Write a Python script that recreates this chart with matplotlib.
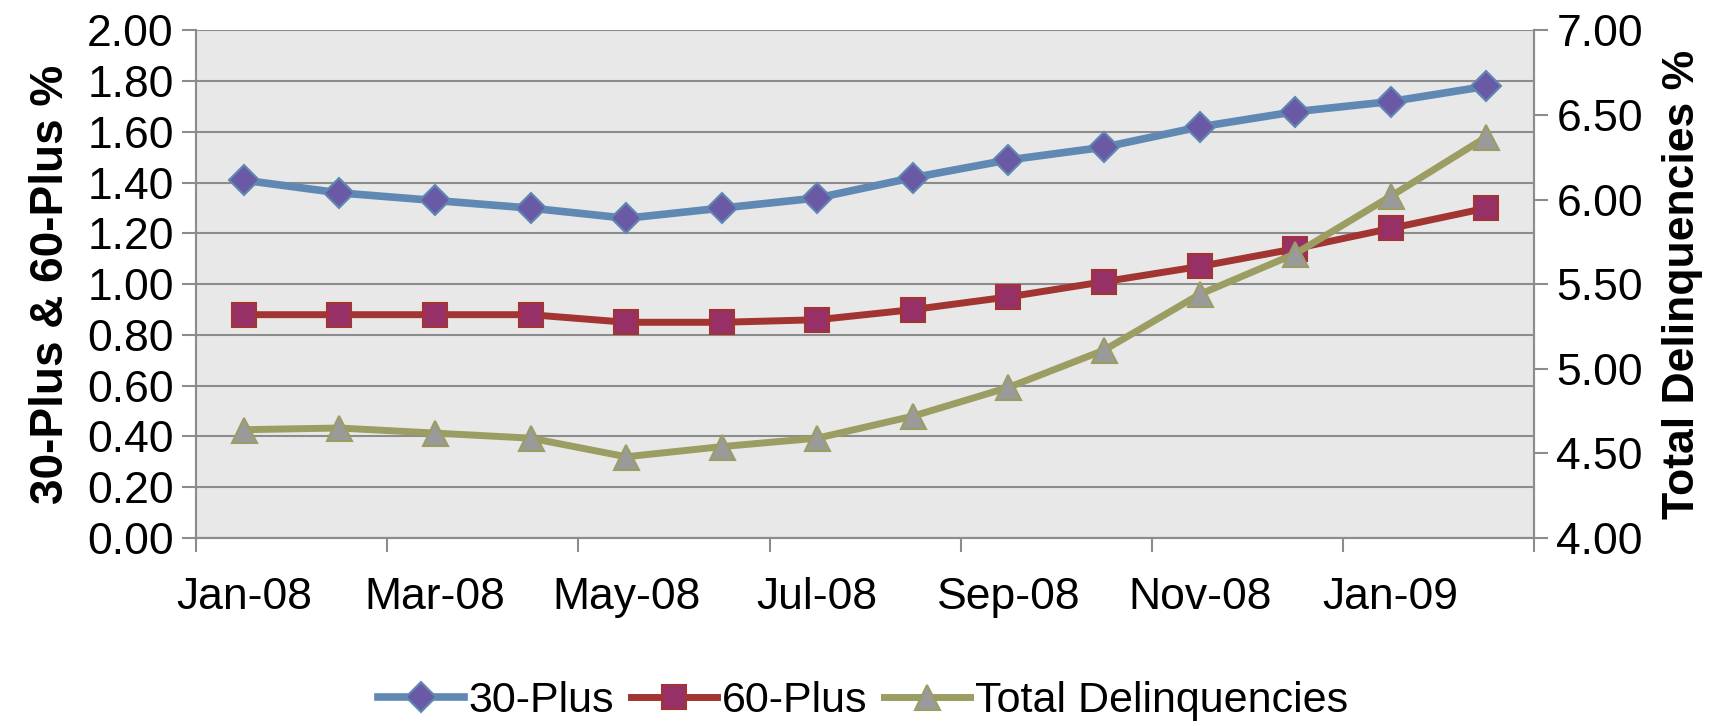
import numpy as np
import matplotlib.pyplot as plt

plt.rcParams['font.family'] = ['Liberation Sans', 'DejaVu Sans']

# monthly data
months = ['Jan-08', 'Feb-08', 'Mar-08', 'Apr-08', 'May-08', 'Jun-08', 'Jul-08',
          'Aug-08', 'Sep-08', 'Oct-08', 'Nov-08', 'Dec-08', 'Jan-09', 'Feb-09']
plus30 = [1.41, 1.36, 1.33, 1.30, 1.26, 1.30, 1.34, 1.42, 1.49, 1.54, 1.62, 1.68, 1.72, 1.78]
plus60 = [0.88, 0.88, 0.88, 0.88, 0.85, 0.85, 0.86, 0.90, 0.95, 1.01, 1.07, 1.14, 1.22, 1.30]
total = [4.64, 4.65, 4.62, 4.59, 4.48, 4.54, 4.59, 4.72, 4.89, 5.11, 5.44, 5.68, 6.02, 6.37]

x = np.arange(len(months))
gray = '#8c8c8c'

fig = plt.figure(figsize=(17.26, 7.26), dpi=100)
ax = fig.add_axes([0.1136, 0.259, 0.7752, 0.699])
ax2 = ax.twinx()

ax.set_facecolor('#e8e8e8')
l1, = ax.plot(x, plus30, color='#5f89b3', lw=5.5, marker='D', ms=15,
              mfc='#6a5aa6', mec='#5f89b3', mew=1.5, label='30-Plus')
l2, = ax.plot(x, plus60, color='#a23431', lw=5, marker='s', ms=17,
              mfc='#973067', mec='#a23431', mew=1.5, label='60-Plus')
l3, = ax2.plot(x, total, color='#9c9d63', lw=5, marker='^', ms=18,
               mfc='#9a9a9a', mec='#9c9d63', mew=1.5, label='Total Delinquencies')

ax.set_xlim(-0.5, 13.5)
ax.set_ylim(0, 2)
ax2.set_ylim(4, 7)
ax.set_yticks(np.arange(0, 2.01, 0.2))
ax.set_yticklabels(['%.2f' % v for v in np.arange(0, 2.01, 0.2)])
ax2.set_yticks(np.arange(4, 7.01, 0.5))
ax2.set_yticklabels(['%.2f' % v for v in np.arange(4, 7.01, 0.5)])

# category ticks at boundaries, labels every other month
ax.set_xticks(np.arange(-0.5, 14, 2))
ax.set_xticklabels([])
ax.set_xticks(x[::2], minor=True)
ax.set_xticklabels(months[::2], minor=True)
ax.tick_params(axis='x', which='major', length=10, color=gray, width=1.5)
ax.tick_params(axis='x', which='minor', length=0, labelsize=32, pad=28)
ax.tick_params(axis='y', length=10, color=gray, width=1.5, labelsize=32, pad=6)
ax2.tick_params(axis='y', length=10, color=gray, width=1.5, labelsize=32, pad=6)

ax.grid(axis='y', color=gray, lw=1.5)
ax.set_axisbelow(True)
for a in (ax, ax2):
    a.spines['top'].set_visible(False)
    for s in ('left', 'right', 'bottom'):
        a.spines[s].set_color(gray)
        a.spines[s].set_linewidth(1.5)

ax.set_ylabel('30-Plus & 60-Plus %', fontsize=33, fontweight='bold', labelpad=10)
ax2.set_ylabel('Total Delinquencies %', fontsize=32, fontweight='bold', labelpad=14)

fig.legend(handles=[l1, l2, l3], loc='center', bbox_to_anchor=(0.5, 0.035), ncol=3,
           frameon=False, fontsize=31, handlelength=2.0, handletextpad=0.1,
           columnspacing=0.4)

fig.savefig('out.png', dpi=100)
